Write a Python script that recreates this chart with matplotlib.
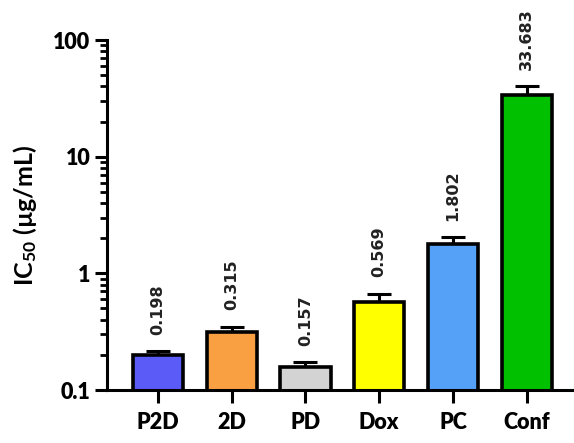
import matplotlib
matplotlib.use('Agg')
from matplotlib import pyplot as plt
from matplotlib.ticker import LogLocator, NullFormatter, FixedLocator, FixedFormatter

samples = ['P2D', '2D', 'PD', 'Dox', 'PC', 'Conf']
ic50 = [0.198, 0.315, 0.157, 0.569, 1.802, 33.683]
ic50_err = [0.016, 0.033, 0.016, 0.097, 0.23, 6.5]
bar_colors = ['#5b5bf7', '#f9a043', '#d3d3d3', '#ffff00', '#55a1f7', '#00c000']

plt.rcParams['font.family'] = ['Lato', 'DejaVu Sans']
plt.rcParams['mathtext.fontset'] = 'custom'
plt.rcParams['mathtext.rm'] = 'Lato:bold'
plt.rcParams['mathtext.it'] = 'Lato:bold'
plt.rcParams['mathtext.bf'] = 'Lato:bold'

fig = plt.figure(figsize=(5.74, 4.43), dpi=100)
ax = fig.add_axes([0.1864, 0.1196, 0.8136, 0.7901])

x = list(range(len(samples)))
ax.bar(x, ic50, width=0.68, color=bar_colors, edgecolor='black', linewidth=2.6, zorder=2)
ax.errorbar(x, ic50, yerr=[[0] * len(x), ic50_err], fmt='none', ecolor='black',
            elinewidth=2.2, capsize=8.5, capthick=2.2, zorder=1)

for xi, v, e in zip(x, ic50, ic50_err):
    ax.annotate(f'{v:.3f}', xy=(xi, v + e), xytext=(0, 12), textcoords='offset points',
                rotation=90, ha='center', va='bottom', fontsize=11.5, fontweight='semibold',
                family=['DejaVu Sans'], color='#222222')

ax.set_yscale('log')
ax.set_ylim(0.1, 100)
ax.set_xlim(-0.69, 5.64)
ax.yaxis.set_major_locator(FixedLocator([0.1, 1, 10, 100]))
ax.yaxis.set_major_formatter(FixedFormatter(['0.1', '1', '10', '100']))
ax.yaxis.set_minor_locator(LogLocator(base=10, subs=range(2, 10)))
ax.yaxis.set_minor_formatter(NullFormatter())

ax.set_xticks(x)
ax.set_xticklabels(samples)
ax.set_ylabel('IC$_{50}$ (µg/mL)', fontsize=18, fontweight='bold', labelpad=10)

for lbl in ax.get_xticklabels() + ax.get_yticklabels():
    lbl.set_fontweight('heavy')
    lbl.set_fontsize(15.5)

ax.spines['top'].set_visible(False)
ax.spines['right'].set_visible(False)
ax.spines['left'].set_linewidth(2.2)
ax.spines['bottom'].set_linewidth(2.2)
ax.tick_params(axis='both', which='major', length=9, width=2.2, pad=3)
ax.tick_params(axis='x', which='major', pad=7)
ax.tick_params(axis='y', which='minor', length=5, width=2.0)
ax.set_facecolor('none')

fig.savefig('out.png', dpi=100)
